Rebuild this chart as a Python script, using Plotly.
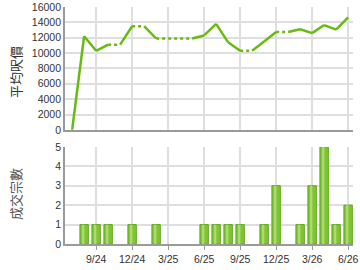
import plotly.graph_objects as go

months = ["7/24", "8/24", "9/24", "10/24", "11/24", "12/24", "1/25", "2/25", "3/25",
          "4/25", "5/25", "6/25", "7/25", "8/25", "9/25", "10/25", "11/25", "12/25",
          "1/26", "2/26", "3/26", "4/26", "5/26", "6/26"]
avg_price = [0, 12200, 10300, 11100, 11100, 13500, 13500, 11900, 11900,
             11900, 11900, 12300, 13800, 11400, 10300, 10300, 11500, 12750,
             12750, 13100, 12600, 13650, 13050, 14650]
deal_count = [0, 1, 1, 1, 0, 1, 0, 1, 0, 0, 0, 1, 1, 1, 1, 0, 1, 3, 0, 1, 3, 5, 1, 2]
tick_labels = ["9/24", "12/24", "3/25", "6/25", "9/25", "12/25", "3/26", "6/26"]

idx = list(range(len(months)))
tick_idx = [months.index(t) for t in tick_labels]
bar_vals = [c if c > 0 else None for c in deal_count]

# split line into solid (month has deals) and dotted (carried forward) segments
sx, sy, dx, dy = [], [], [], []
for i in range(1, len(idx)):
    if deal_count[i] > 0:
        sx += [idx[i - 1], idx[i], None]
        sy += [avg_price[i - 1], avg_price[i], None]
    else:
        dx += [idx[i - 1], idx[i], None]
        dy += [avg_price[i - 1], avg_price[i], None]

GREEN = "#66bb11"
fig = go.Figure()
fig.add_trace(go.Scatter(x=sx, y=sy, mode="lines", line=dict(color=GREEN, width=2.5),
                         xaxis="x", yaxis="y", hoverinfo="skip", showlegend=False))
fig.add_trace(go.Scatter(x=dx, y=dy, mode="lines", line=dict(color=GREEN, width=2.5, dash="dot"),
                         xaxis="x", yaxis="y", hoverinfo="skip", showlegend=False))
fig.add_trace(go.Bar(x=idx, y=bar_vals, width=0.7, marker=dict(color="#80c634",
                     line=dict(color="#5ea51a", width=1)), xaxis="x2", yaxis="y2", showlegend=False))
fig.add_trace(go.Bar(x=[i - 0.08 for i in idx], y=bar_vals, width=0.2,
                     marker=dict(color="#a8dc6c", line=dict(width=0)),
                     xaxis="x2", yaxis="y2", showlegend=False))

xr = [-0.58, 23.42]
grid = "#dedede"
axline = "#9a9a9a"
tickfont = dict(family="Liberation Sans, Arial", size=10.5, color="#333")
common_x = dict(range=xr, tickvals=tick_idx, showgrid=True, gridcolor=grid, gridwidth=1.5,
                showline=True, linecolor=axline, linewidth=2, zeroline=False, fixedrange=True,
                automargin=False)
fig.update_layout(
    width=360, height=270, margin=dict(l=0, r=0, t=0, b=0, autoexpand=False),
    paper_bgcolor="white", plot_bgcolor="white", barmode="overlay",
    xaxis=dict(domain=[0.181, 0.981], anchor="y", showticklabels=False, ticks="", **common_x),
    yaxis=dict(domain=[0.519, 0.974], anchor="x", range=[0, 16000], dtick=2000, tickformat="d",
               showgrid=True, gridcolor=grid, gridwidth=1.5, showline=True, linecolor=axline,
               linewidth=2, zeroline=False, tickfont=tickfont, ticks="", automargin=False),
    xaxis2=dict(domain=[0.181, 0.981], anchor="y2", ticktext=tick_labels, ticks="outside",
                ticklen=4, tickcolor=axline, tickfont=tickfont, **common_x),
    yaxis2=dict(domain=[0.096, 0.456], anchor="x2", range=[0, 5], dtick=1,
                showgrid=True, gridcolor=grid, gridwidth=1.5, showline=True, linecolor=axline,
                linewidth=2, zeroline=False, tickfont=tickfont, ticks="", automargin=False),
    font=dict(family="Liberation Sans, Arial", color="#333"),
    annotations=[
        dict(text="平均呎價", x=16 / 360, y=1 - 72 / 270, xref="paper", yref="paper",
             xanchor="center", yanchor="middle",
             textangle=-90, showarrow=False, font=dict(family="Noto Sans CJK TC", size=13, color="#333")),
        dict(text="成交宗數", x=15 / 360, y=1 - 194 / 270, xref="paper", yref="paper",
             xanchor="center", yanchor="middle",
             textangle=-90, showarrow=False, font=dict(family="Noto Sans CJK TC", size=13, color="#555")),
    ],
)
fig.write_html("out.html")
